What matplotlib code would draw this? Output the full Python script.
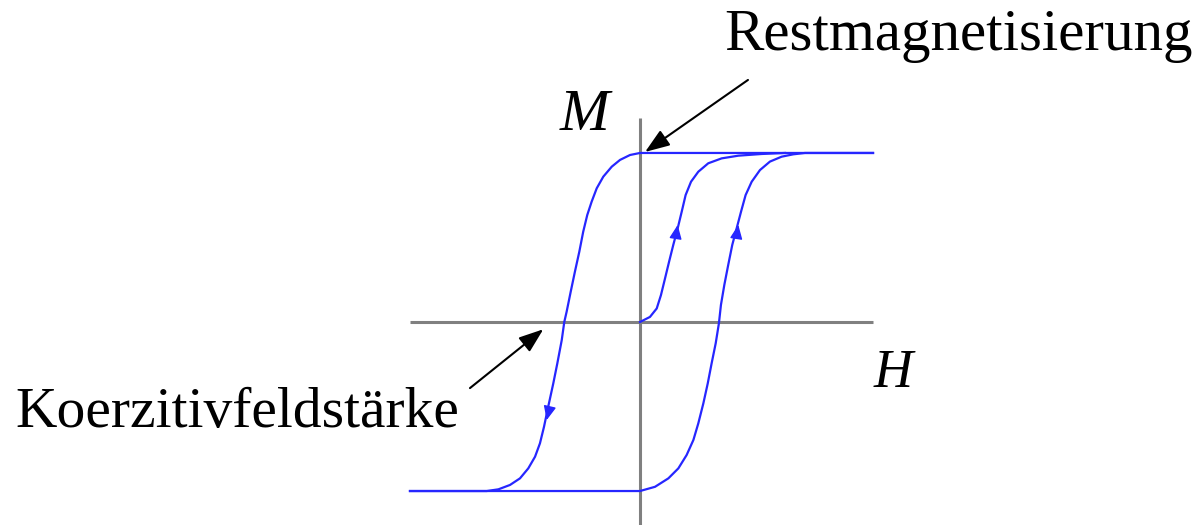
"""
Hysteresis loop sketch: magnetisation M against field strength H,
with remanence and coercive field marked.
"""
import numpy as np
import matplotlib.pyplot as plt

# descending branch (upper), right to left, M normalised to saturation
desc_h = [1.379, 0.0, -0.059, -0.118, -0.167, -0.217, -0.256, -0.286, -0.312,
          -0.336, -0.359, -0.385, -0.410, -0.434, -0.448, -0.463, -0.489,
          -0.513, -0.543, -0.568, -0.592, -0.621, -0.661, -0.710, -0.769,
          -0.838, -0.907, -1.361]
desc_m = [1.0, 1.0, 0.988, 0.959, 0.919, 0.860, 0.791, 0.712, 0.633,
          0.534, 0.416, 0.298, 0.179, 0.061, 0.0, -0.107, -0.244,
          -0.363, -0.501, -0.620, -0.718, -0.797, -0.866, -0.925, -0.964,
          -0.990, -1.0, -1.0]

# ascending branch (lower), left to right
asc_h = [-1.361, 0.0, 0.089, 0.168, 0.227, 0.276, 0.316, 0.345, 0.375, 0.401,
         0.424, 0.448, 0.467, 0.479, 0.499, 0.522, 0.546, 0.572, 0.598, 0.625,
         0.661, 0.710, 0.769, 0.838, 0.907, 0.976, 1.379]
asc_m = [-1.0, -1.0, -0.975, -0.925, -0.866, -0.787, -0.698, -0.600, -0.481, -0.363,
         -0.244, -0.126, -0.008, 0.101, 0.219, 0.337, 0.456, 0.554, 0.653, 0.751,
         0.830, 0.899, 0.949, 0.978, 0.992, 1.0, 1.0]

# initial magnetisation curve from the origin
virgin_h = [0.0, 0.059, 0.099, 0.124, 0.148, 0.172, 0.197, 0.223, 0.247, 0.270,
            0.302, 0.345, 0.404, 0.483, 0.582, 0.720, 0.858]
virgin_m = [0.0, 0.030, 0.080, 0.159, 0.257, 0.356, 0.456, 0.554, 0.653, 0.751,
            0.830, 0.889, 0.939, 0.968, 0.984, 0.994, 1.0]

# direction arrows on the curves: (from, to)
dir_arrows = [
    ((-0.538, -0.52), (-0.552, -0.580)),
    ((0.213, 0.51), (0.223, 0.574)),
    ((0.572, 0.51), (0.582, 0.574)),
]

h_axis = [-1.361, 1.379]
m_axis = [-1.201, 1.207]

blue = "#2626ff"
grey = "#808080"

fig = plt.figure(figsize=(11.97, 5.25), dpi=100)
ax = fig.add_axes([0, 0, 1, 1])
ax.set_xlim(-3.787, 3.296)
ax.set_ylim(-1.201, 1.905)
ax.axis("off")

ax.plot(h_axis, [0, 0], color=grey, lw=2.2, solid_capstyle="butt")
ax.plot([0, 0], m_axis, color=grey, lw=2.2, solid_capstyle="butt")

ax.plot(desc_h, desc_m, color=blue, lw=1.6)
ax.plot(asc_h, asc_m, color=blue, lw=1.6)
ax.plot(virgin_h, virgin_m, color=blue, lw=1.6)

for start, end in dir_arrows:
    ax.annotate("", xy=end, xytext=start,
                arrowprops=dict(arrowstyle="-|>,head_length=0.85,head_width=0.38",
                                color=blue, lw=1.0, shrinkA=0, shrinkB=0))

black_arrow = dict(arrowstyle="-|>,head_length=1.5,head_width=0.55",
                   color="black", lw=1.5, shrinkA=0, shrinkB=0)
ax.annotate("", xy=(0.030, 1.006), xytext=(0.639, 1.432), arrowprops=black_arrow)
ax.annotate("", xy=(-0.572, -0.043), xytext=(-1.006, -0.391), arrowprops=black_arrow)

serif = "Liberation Serif"
ax.text(-0.325, 1.136, "M", fontsize=43, fontstyle="italic", family=serif,
        ha="center", va="baseline")
ax.text(1.497, -0.385, "H", fontsize=39, fontstyle="italic", family=serif,
        ha="center", va="baseline")
ax.text(0.497, 1.609, "Restmagnetisierung", fontsize=42.5, family=serif,
        ha="left", va="baseline")
ax.text(-3.698, -0.621, "Koerzitivfeldstärke", fontsize=41.4, family=serif,
        ha="left", va="baseline")

fig.savefig("out.png", dpi=100)
